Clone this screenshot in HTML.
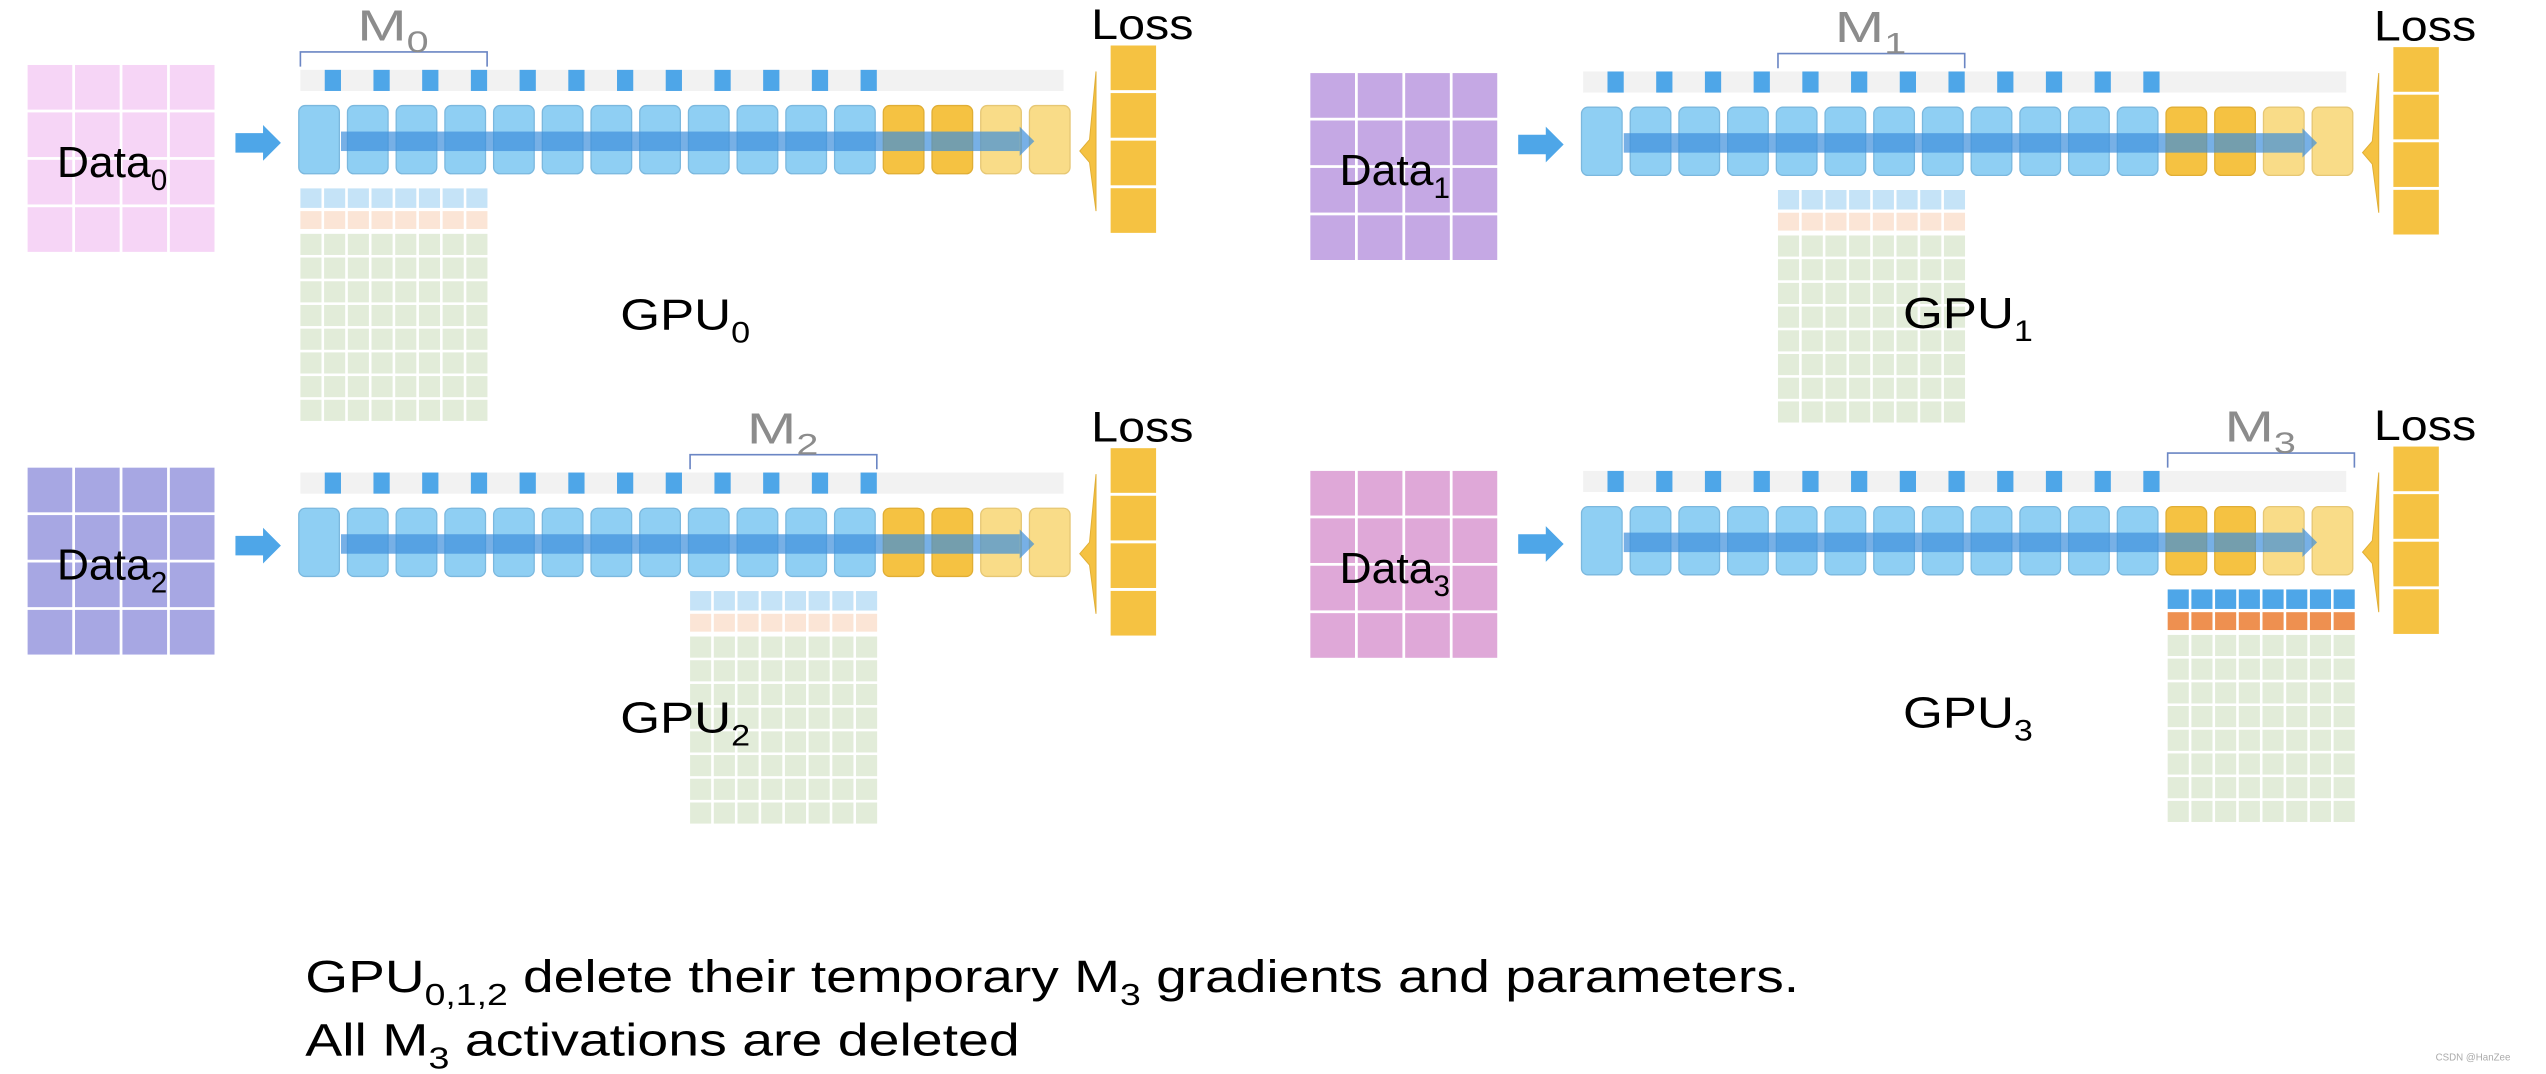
<!DOCTYPE html>
<html><head><meta charset="utf-8">
<style>
html,body{margin:0;padding:0;background:#fff;width:2546px;height:1074px;overflow:hidden}
svg{display:block}
text{font-family:"Liberation Sans",sans-serif}
</style></head>
<body>
<svg id="s" width="2546" height="1074" viewBox="0 0 1568 661.4" xmlns="http://www.w3.org/2000/svg">
<text x="188" y="611" font-size="28" textLength="920" lengthAdjust="spacingAndGlyphs">GPU<tspan font-size="19" dy="8">0,1,2</tspan><tspan dy="-8"> delete their temporary M</tspan><tspan font-size="19" dy="8">3</tspan><tspan dy="-8"> gradients and parameters.</tspan></text>
<text x="188" y="650" font-size="28" textLength="440" lengthAdjust="spacingAndGlyphs">All M<tspan font-size="19" dy="8">3</tspan><tspan dy="-8"> activations are deleted</tspan></text>
<text x="1500" y="653" font-size="6" fill="#aaa">CSDN @HanZee</text>
</svg>
<script>
var s=document.getElementById('s');var h='';
function r(x,y,w,hh,f,extra){h+='<rect x="'+x+'" y="'+y+'" width="'+w+'" height="'+hh+'" fill="'+f+'" '+(extra||'')+'/>';}
function panel(ox,oy,ddy,dataCol,idx,gc1,gc2){
 // data box
 var dx=ox+17,dy=oy+40+ddy;
 for(var i=0;i<4;i++)for(var j=0;j<4;j++)r(dx+i*29.2,dy+j*29.2,27.5,27.5,dataCol);
 h+='<text x="'+(dx+18)+'" y="'+(dy+69)+'" font-size="27" textLength="68" lengthAdjust="spacingAndGlyphs">Data<tspan font-size="18" dy="8">'+idx+'</tspan></text>';
 // input arrow
 h+='<polygon points="'+(ox+145)+','+(oy+82)+' '+(ox+162)+','+(oy+82)+' '+(ox+162)+','+(oy+77)+' '+(ox+173)+','+(oy+88)+' '+(ox+162)+','+(oy+99)+' '+(ox+162)+','+(oy+94)+' '+(ox+145)+','+(oy+94)+'" fill="#4ea6e8"/>';
 // strip
 r(ox+185,oy+43,470,13,'#f2f2f2');
 for(var i=0;i<12;i++)r(ox+200+30*i,oy+43,10,13,'#4ea6e8');
 // layers
 for(var i=0;i<16;i++){var c=i<12?'#8fcff3':(i<14?'#f5c242':'#f9dc88');var b=i<12?'#7bb8de':(i<14?'#e0ae35':'#e6c774');
  r(ox+184+30*i,oy+65,25,42,c,'rx="4" stroke="'+b+'" stroke-width="0.8"');}
 h+='<rect x="'+(ox+210)+'" y="'+(oy+81)+'" width="418" height="12" fill="#3d8fdc" opacity="0.7"/>';
 h+='<polygon points="'+(ox+628)+','+(oy+78)+' '+(ox+637)+','+(oy+87)+' '+(ox+628)+','+(oy+96)+'" fill="#3d8fdc" opacity="0.7"/>';
 // back arrow
 h+='<polygon points="'+(ox+675)+','+(oy+44)+' '+(ox+675)+','+(oy+130)+' '+(ox+671)+','+(oy+100)+' '+(ox+665)+','+(oy+93)+' '+(ox+671)+','+(oy+86)+'" fill="#f5c242" stroke="#e0ae35" stroke-width="0.6"/>';
 // loss
 for(var j=0;j<4;j++)r(ox+684,oy+28+29.3*j,28,27.5,'#f5c242');
 h+='<text x="'+(ox+672)+'" y="'+(oy+24)+'" font-size="26" textLength="63" lengthAdjust="spacingAndGlyphs">Loss</text>';
 // bracket + M label
 var gx=ox+185+idx*120;
 h+='<path d="M'+gx+' '+(oy+41)+' V'+(oy+32)+' H'+(gx+115)+' V'+(oy+41)+'" fill="none" stroke="#6b86c4" stroke-width="1"/>';
 h+='<text x="'+(gx+35)+'" y="'+(oy+25)+'" font-size="27" fill="#8c8c8c" textLength="44" lengthAdjust="spacingAndGlyphs">M<tspan font-size="18" dy="7">'+idx+'</tspan></text>';
 // grid below
 for(var i=0;i<8;i++){var x=gx+i*14.6;
  r(x,oy+116,13,12,gc1);r(x,oy+130,13,11,gc2);
  for(var j=0;j<8;j++)r(x,oy+144+j*14.6,13,13,'#e2ecd9');}
 // GPU label
 var lx=ox+(idx==1||idx==3?382:382);
 h+='<text x="'+lx+'" y="'+(oy+(idx%2?201:203))+'" font-size="27" textLength="80" lengthAdjust="spacingAndGlyphs">GPU<tspan font-size="18" dy="8">'+idx+'</tspan></text>';
}
panel(0,0,0,'#f6d5f6',0,'#c5e3f7','#fbe5d6');
panel(790,1,4,'#c5a8e4',1,'#c5e3f7','#fbe5d6');
panel(0,248,0,'#a7a7e3',2,'#c5e3f7','#fbe5d6');
panel(790,247,3,'#dfa8d8',3,'#4ea6e8','#ee9050');
s.insertAdjacentHTML('afterbegin',h);
</script>
</body></html>
